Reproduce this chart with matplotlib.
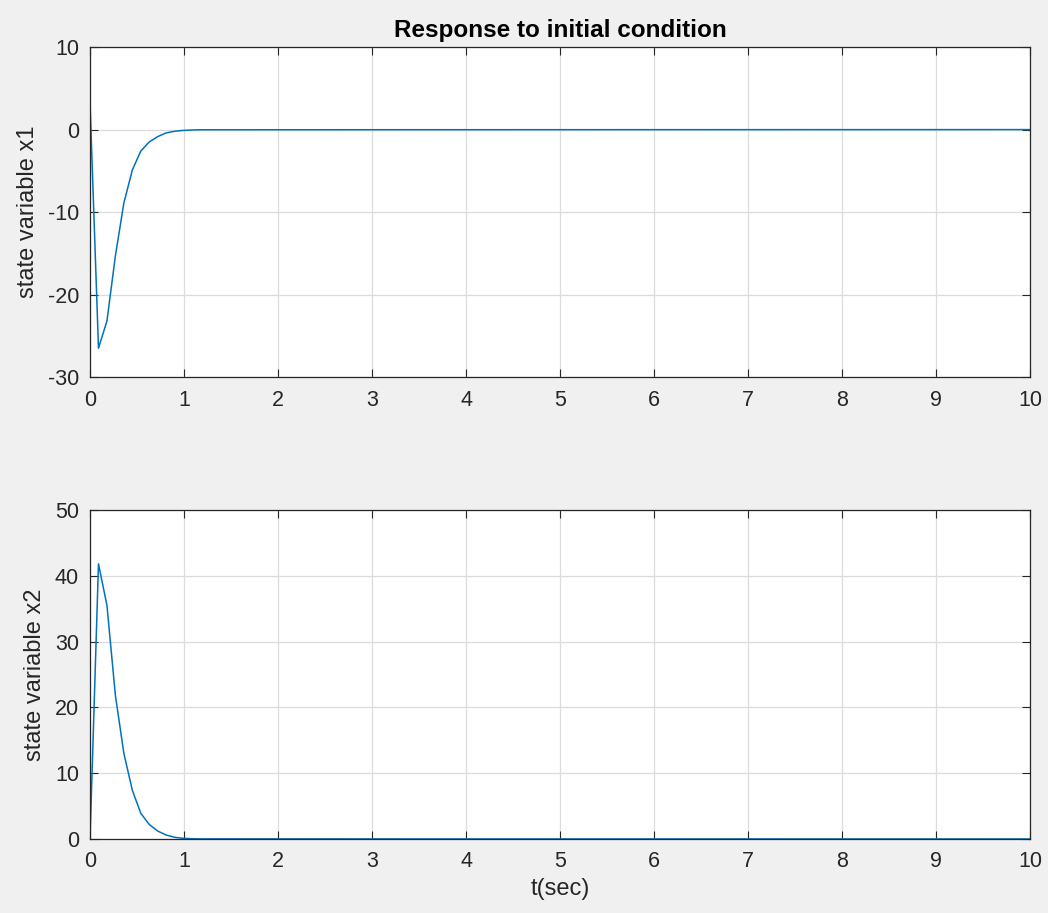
import matplotlib.pyplot as plt

plt.rcParams['font.family'] = ['Liberation Sans', 'DejaVu Sans']
plt.rcParams['axes.unicode_minus'] = False

# sample times (sec) and the two state variables
t = [0, 0.09, 0.18, 0.27, 0.36, 0.45, 0.54, 0.63, 0.72, 0.81, 0.90, 0.99, 1.08, 1.17, 10]
x1 = [3.3, -26.5, -23.2, -15.3, -8.9, -4.9, -2.6, -1.5, -0.85, -0.4, -0.2, -0.1, -0.05, -0.02, 0]
x2 = [0, 41.8, 35.5, 21.8, 13.0, 7.4, 3.9, 2.2, 1.2, 0.6, 0.25, 0.1, 0.04, 0.01, 0]

xticks = list(range(0, 11))
line_color = '#0072BD'
txt_color = '#262626'

fig = plt.figure(figsize=(10.48, 9.13), dpi=100, facecolor='#f0f0f0')
ax1 = fig.add_axes([0.0859, 0.587, 0.897, 0.3614])
ax2 = fig.add_axes([0.0859, 0.0811, 0.897, 0.3604])


def style(ax):
    ax.set_facecolor('white')
    ax.set_xlim(0, 10)
    ax.set_xticks(xticks)
    ax.grid(True, color='#dcdcdc', linewidth=0.9)
    ax.set_axisbelow(True)
    ax.tick_params(direction='in', top=True, right=True, length=6,
                   labelsize=15.5, colors=txt_color)
    ax.tick_params(axis='x', pad=9)
    ax.tick_params(axis='y', pad=8)
    for s in ax.spines.values():
        s.set_color('#262626')
        s.set_linewidth(0.9)


ax1.plot(t, x1, color=line_color, linewidth=1.1)
style(ax1)
ax1.set_ylim(-30, 10)
ax1.set_yticks([-30, -20, -10, 0, 10])
ax1.set_ylabel('state variable x1', fontsize=17, color=txt_color, labelpad=6)
ax1.set_title('Response to initial condition', fontsize=17.5, fontweight='bold',
              color='black', pad=7)

ax2.plot(t, x2, color=line_color, linewidth=1.1)
style(ax2)
ax2.set_ylim(0, 50)
ax2.set_yticks([0, 10, 20, 30, 40, 50])
ax2.set_ylabel('state variable x2', fontsize=17, color=txt_color, labelpad=6)
ax2.set_xlabel('t(sec)', fontsize=17, color=txt_color, labelpad=4)

fig.savefig('out.png', facecolor=fig.get_facecolor())
